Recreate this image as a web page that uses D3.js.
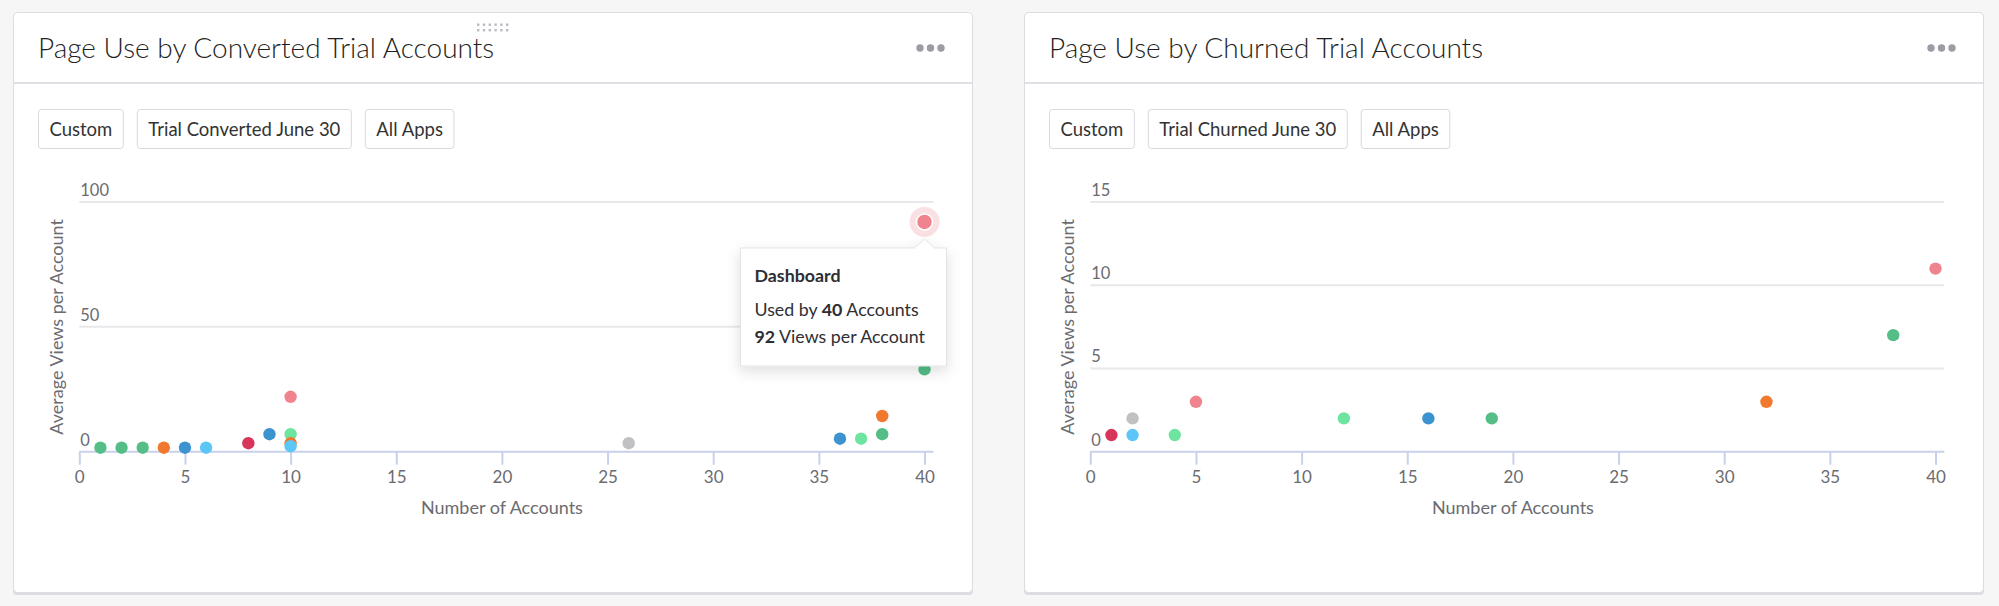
<!DOCTYPE html>
<html>
<head>
<meta charset="utf-8">
<script src="https://cdn.jsdelivr.net/npm/d3@7"></script>
<style>
    body { margin: 0; background: #f6f6f7; font-family: Lato, "Open Sans", sans-serif; }
    .panelBox { fill: #fff; stroke: #dcdce2; stroke-width: 1; }
    .panelTitle { font-size: 28px; font-weight: 300; fill: #1f1f24; }
    .divider { stroke: #dfdfe6; stroke-width: 2; }
    .btn rect { fill: #fff; stroke: #d9d9de; }
    .btn text { font-size: 18.5px; fill: #333; }
    .grid line { stroke: #e8e8ec; stroke-width: 2; }
    .ylabel { font-size: 16.5px; fill: #6b6b70; }
    .axis path, .axis line { stroke: #c9d1ea; stroke-width: 2; }
    .axis text { font-size: 17px; fill: #6b6b70; font-family: Lato, sans-serif; }
    .axisTitle { font-size: 18px; fill: #6b6b70; }
    .tip text { font-size: 17.8px; fill: #2e2e33; }
</style>
</head>
<body>
<script>
//wrap everything in an anonymous function so nothing is in global scope
(function () {

    //chart data
    var xTicks = [0, 5, 10, 15, 20, 25, 30, 35, 40];
    var convertedYTicks = [0, 50, 100];
    var churnedYTicks = [0, 5, 10, 15];

    //converted trial accounts: accounts using the page, avg views, colour group
    var convertedAccounts = [1, 2, 3, 4, 5, 6, 8, 9, 10, 10, 10, 10, 26, 36, 37, 38, 38, 40, 40];
    var convertedViews = [1.6, 1.6, 1.6, 1.6, 1.6, 1.6, 3.4, 7, 22, 7, 3.4, 2.2, 3.4, 5.2, 5.2, 7, 14.3, 33, 92];
    var convertedGroup = [0, 0, 0, 1, 2, 3, 4, 2, 5, 6, 1, 3, 7, 2, 6, 0, 1, 0, 5];

    //churned trial accounts
    var churnedAccounts = [1, 2, 2, 4, 5, 12, 16, 19, 32, 38, 40];
    var churnedViews = [1, 1, 2, 1, 3, 2, 2, 2, 3, 7, 11];
    var churnedGroup = [4, 3, 7, 6, 5, 6, 2, 0, 1, 0, 5];

    var filtersConverted = ["Custom", "Trial Converted June 30", "All Apps"];
    var filtersChurned = ["Custom", "Trial Churned June 30", "All Apps"];

    //colour groups: green, orange, blue, light blue, crimson, pink, light green, gray
    var palette = ["#55be86", "#f0782f", "#3d93cf", "#5cc6f7", "#d8355a", "#ef848f", "#6ee4a1", "#c1c1c3"];

    var svg = d3.select("body")
        .append("svg")
        .attr("width", 1999)
        .attr("height", 606);

    //drop shadow for tooltip
    var defs = svg.append("defs");
    var f = defs.append("filter").attr("id", "tipShadow")
        .attr("x", "-30%").attr("y", "-30%").attr("width", "160%").attr("height", "170%");
    f.append("feDropShadow").attr("dx", 0).attr("dy", 5).attr("stdDeviation", 7)
        .attr("flood-color", "#000").attr("flood-opacity", 0.13);

    drawPanel(13, "Page Use by Converted Trial Accounts", filtersConverted, true,
        convertedAccounts, convertedViews, convertedGroup, convertedYTicks, 18);
    drawPanel(1024, "Page Use by Churned Trial Accounts", filtersChurned, false,
        churnedAccounts, churnedViews, churnedGroup, churnedYTicks, -1);

    function drawPanel(px, title, filters, handle, xs, ys, groups, yTicks, hiIndex) {
        var py = 12, pw = 960, ph = 581;
        var g = svg.append("g").attr("transform", "translate(" + px + "," + py + ")");

        //bottom edge shadow then card
        g.append("rect").attr("x", 0).attr("y", 2).attr("width", pw).attr("height", ph)
            .attr("rx", 4).attr("fill", "#dcdce4");
        g.append("rect").attr("class", "panelBox")
            .attr("x", 0.5).attr("y", 0.5).attr("width", pw - 1).attr("height", ph - 1).attr("rx", 4);

        g.append("text").attr("class", "panelTitle")
            .attr("x", 25).attr("y", 46).text(title);

        //menu dots
        g.selectAll(".menuDot").data([0, 1, 2]).enter().append("circle")
            .attr("cx", function (d) { return 907 + d * 10.5; })
            .attr("cy", 36).attr("r", 3.7).attr("fill", "#9b9ca4");

        //drag handle
        if (handle) {
            for (var r = 0; r < 2; r++) {
                for (var c = 0; c < 6; c++) {
                    g.append("rect").attr("x", pw / 2 - 16 + c * 5.8).attr("y", 11.5 + r * 5.5)
                        .attr("width", 2.4).attr("height", 2.4).attr("fill", "#b9bac2");
                }
            }
        }

        g.append("line").attr("class", "divider")
            .attr("x1", 1).attr("x2", pw - 1).attr("y1", 71).attr("y2", 71);

        //filter buttons
        var bx = 25;
        filters.forEach(function (label) {
            var b = g.append("g").attr("class", "btn");
            var rect = b.append("rect").attr("y", 97.5).attr("height", 39).attr("rx", 3);
            var t = b.append("text").attr("y", 123.5).text(label);
            var w = t.node().getComputedTextLength() + 22;
            rect.attr("x", bx + 0.5).attr("width", w);
            t.attr("x", bx + 11.5);
            bx += w + 14;
        });

        //plot area
        var left = 66.3, top = 190, bottom = 439.7, plotW = 845.2, gridW = 854;

        var xScale = d3.scaleLinear().domain([0, 40]).range([left, left + plotW]);
        var yScale = d3.scaleLinear().domain([0, d3.max(yTicks)]).range([bottom, top]);

        //gridlines with labels sitting above them
        var grid = g.append("g").attr("class", "grid");
        grid.selectAll("line").data(yTicks.slice(1)).enter().append("line")
            .attr("x1", left).attr("x2", left + gridW)
            .attr("y1", function (d) { return yScale(d); })
            .attr("y2", function (d) { return yScale(d); });
        g.selectAll(".ylabel").data(yTicks).enter().append("text")
            .attr("class", "ylabel")
            .attr("x", left + 1)
            .attr("y", function (d) { return yScale(d) - 6; })
            .text(function (d) { return d; });

        //x axis
        var xAxis = d3.axisBottom(xScale).tickValues(xTicks).tickSize(13).tickPadding(6);
        var axis = g.append("g").attr("class", "axis")
            .attr("transform", "translate(0," + bottom + ")")
            .call(xAxis);
        axis.select(".domain").attr("d", "M" + left + ",0H" + (left + gridW));

        g.append("text").attr("class", "axisTitle")
            .attr("x", left + plotW / 2).attr("y", bottom + 62)
            .attr("text-anchor", "middle").text("Number of Accounts");

        g.append("text").attr("class", "axisTitle")
            .attr("transform", "translate(50," + (top + bottom) / 2 + ") rotate(-90)")
            .attr("text-anchor", "middle").text("Average Views per Account");

        //points
        var idx = d3.range(xs.length);
        g.selectAll(".dot").data(idx).enter().append("circle")
            .attr("class", "dot")
            .attr("cx", function (i) { return xScale(xs[i]); })
            .attr("cy", function (i) { return yScale(ys[i]); })
            .attr("r", function (i) { return i === hiIndex ? 0 : 6.2; })
            .attr("fill", function (i) { return palette[groups[i]]; });

        //highlighted point with tooltip
        if (hiIndex >= 0) {
            var hx = xScale(xs[hiIndex]), hy = yScale(ys[hiIndex]);
            var col = palette[groups[hiIndex]];
            g.append("circle").attr("cx", hx).attr("cy", hy).attr("r", 15)
                .attr("fill", col).attr("fill-opacity", 0.25);
            g.append("circle").attr("cx", hx).attr("cy", hy).attr("r", 8)
                .attr("fill", col).attr("stroke", "#fff").attr("stroke-width", 1.5);

            var tip = g.append("g").attr("class", "tip")
                .attr("transform", "translate(" + (hx - 184) + "," + (hy + 26) + ")");
            var tw = 206, th = 118;
            tip.append("path")
                .attr("d", "M0,0H" + (184 - 10) + "L184,-9L" + (184 + 10) + ",0H" + tw + "V" + th + "H0Z")
                .attr("fill", "#fff").attr("stroke", "#e3e3e8")
                .attr("filter", "url(#tipShadow)");
            tip.append("text").attr("x", 14).attr("y", 34)
                .attr("font-weight", 700).text("Dashboard");
            var l1 = tip.append("text").attr("x", 14).attr("y", 68);
            l1.append("tspan").text("Used by ");
            l1.append("tspan").attr("font-weight", 700).text(xs[hiIndex]);
            l1.append("tspan").text(" Accounts");
            var l2 = tip.append("text").attr("x", 14).attr("y", 95);
            l2.append("tspan").attr("font-weight", 700).text(ys[hiIndex]);
            l2.append("tspan").text(" Views per Account");
        }
    }

})();
</script>
</body>
</html>
